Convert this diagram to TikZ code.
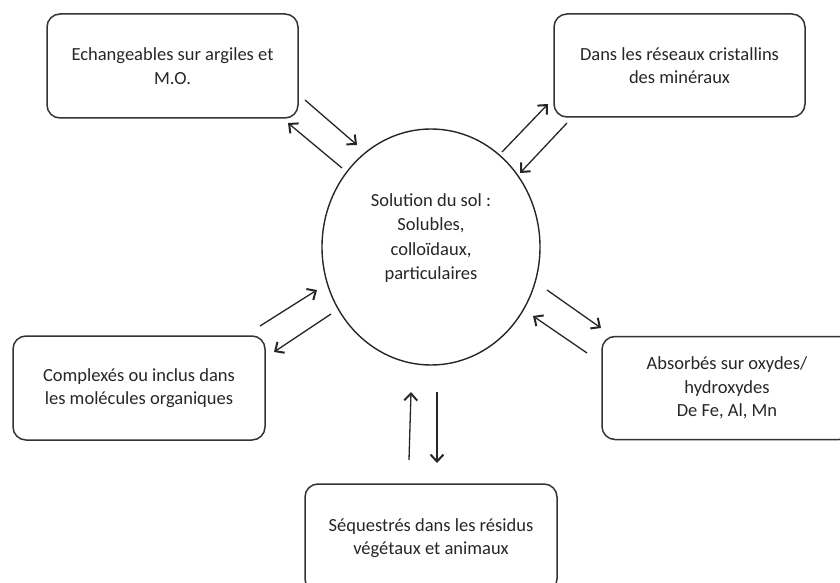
\documentclass[tikz,border=0pt]{standalone}
\usepackage{fontspec}
\setmainfont{Carlito}
\usetikzlibrary{arrows.meta}
\begin{document}
\begin{tikzpicture}[x=1pt,y=-1pt,
  boxst/.style={draw=black!80,line width=1.5pt,rounded corners=13pt,inner sep=0pt,align=center,font=\fontsize{18.5}{23.5}\selectfont,text=black!85},
  arr/.style={line width=1.3pt,draw=black!85,-{Straight Barb[length=7pt,width=13pt,line width=2pt]}}]
\useasboundingbox (0,0) rectangle (840,583);
\node[boxst,minimum width=251pt,minimum height=104pt] (b1) at (172.5,66) {Echangeables sur argiles et\\M.O.};
\node[boxst,minimum width=251pt,minimum height=103pt] (b2) at (679.5,65.5) {Dans les réseaux cristallins\\des minéraux};
\node[boxst,minimum width=252pt,minimum height=104pt] (b3) at (139,388) {Complexés ou inclus dans\\les molécules organiques};
\node[boxst,minimum width=250pt,minimum height=103pt] (b4) at (727,388) {Absorbés sur oxydes/\\hydroxydes\\De Fe, Al, Mn};
\node[boxst,minimum width=252pt,minimum height=108pt] (b5) at (431,538) {Séquestrés dans les résidus\\végétaux et animaux};
\draw[line width=1.4pt,draw=black!85] (431,247) ellipse [x radius=109, y radius=118];
\node[align=center,font=\fontsize{18.5}{24.5}\selectfont,text=black!85] (c) at (431,238) {Solution du sol :\\Solubles,\\colloïdaux,\\particulaires};
\coordinate (a1s) at (305,100); \coordinate (a1e) at (357,145);
\coordinate (a2s) at (342,168); \coordinate (a2e) at (288,123);
\coordinate (a3s) at (502,152); \coordinate (a3e) at (548,104);
\coordinate (a4s) at (567,123); \coordinate (a4e) at (520,173);
\coordinate (a5s) at (260,326); \coordinate (a5e) at (317,290);
\coordinate (a6s) at (331,314); \coordinate (a6e) at (274,352);
\coordinate (a7s) at (547,290); \coordinate (a7e) at (601,328);
\coordinate (a8s) at (587,353); \coordinate (a8e) at (533,316);
\coordinate (a9s) at (409,460); \coordinate (a9e) at (411,392);
\coordinate (a10s) at (437,392); \coordinate (a10e) at (437,463);
\foreach \i in {1,...,10} \draw[arr] (a\i s) -- (a\i e);
\end{tikzpicture}
\end{document}
